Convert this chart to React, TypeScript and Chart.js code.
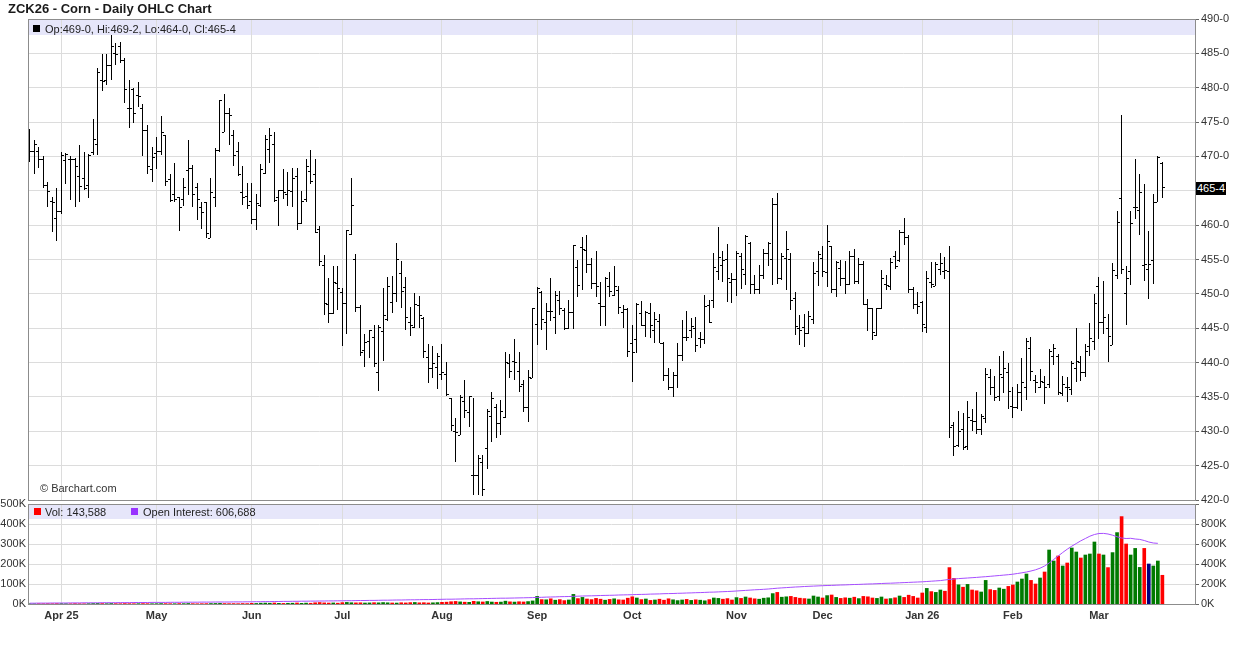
import React, { useEffect, useRef } from 'react';
import { Chart, registerables } from 'chart.js';

Chart.register(...registerables);

const FONT = "'Liberation Sans', Arial, Helvetica, sans-serif";

// x positions are trading-day indexes (0 = 21 Mar 2025 ... 250 = 20 Mar 2026)
const monthTickIndex = [7, 28, 49, 69, 91, 112, 133, 156, 175, 197, 217, 236];
const monthLabels = ['Apr 25', 'May', 'Jun', 'Jul', 'Aug', 'Sep', 'Oct', 'Nov', 'Dec', 'Jan 26', 'Feb', 'Mar'];

const priceTicks = [420, 425, 430, 435, 440, 445, 450, 455, 460, 465, 470, 475, 480, 485, 490];
const volumeTicksK = [0, 100, 200, 300, 400, 500];
const oiTicksK = [0, 200, 400, 600, 800, 1000];

const opens = [
  472.8, 470.7, 470.7, 469.6, 465.8, 463.4, 461.0, 462.0, 469.4, 469.6,
  469.6, 467.1, 466.8, 465.8, 470.5, 471.8, 481.1, 481.1, 483.3, 485.0,
  486.0, 484.0, 477.0, 479.7, 478.9, 477.0, 473.8, 468.1, 470.4, 470.7,
  473.0, 466.6, 464.4, 464.0, 463.8, 467.9, 468.3, 465.5, 462.6, 463.3,
  458.1, 464.0, 470.8, 473.5, 476.3, 473.1, 470.7, 464.7, 464.1, 463.4,
  460.8, 462.8, 467.5, 471.0, 471.8, 464.0, 465.0, 464.4, 464.9, 467.1,
  460.2, 463.7, 467.8, 467.3, 459.3, 454.1, 448.4, 447.1, 451.5, 450.2,
  448.6, 458.6, 455.0, 448.0, 441.8, 443.1, 443.6, 438.6, 444.5, 446.3,
  448.7, 450.1, 452.9, 450.9, 445.9, 445.1, 448.3, 446.4, 440.7, 439.2,
  439.3, 438.3, 438.3, 434.8, 429.9, 429.4, 434.4, 432.7, 423.5, 423.5,
  425.5, 427.5, 432.2, 433.5, 431.2, 432.0, 439.9, 440.2, 438.7, 436.8,
  433.5, 437.7, 445.5, 450.2, 445.8, 447.5, 446.5, 449.1, 447.6, 444.9,
  447.3, 453.8, 456.8, 456.3, 454.2, 451.5, 448.6, 448.2, 451.0, 449.7,
  450.5, 447.3, 447.7, 442.8, 443.4, 447.1, 445.4, 447.1, 444.7, 446.0,
  442.8, 438.1, 436.4, 438.1, 441.0, 443.7, 444.7, 445.0, 443.5, 443.4,
  448.3, 449.1, 453.2, 454.1, 455.0, 451.7, 452.1, 455.5, 452.8, 457.3,
  451.3, 450.7, 452.7, 455.9, 455.0, 463.0, 452.3, 455.2, 455.0, 449.3,
  445.0, 445.1, 444.3, 446.3, 453.2, 455.2, 453.1, 456.9, 450.6, 453.7,
  452.3, 451.3, 455.5, 451.8, 454.2, 448.5, 447.8, 444.0, 447.9, 451.3,
  451.1, 455.5, 454.8, 459.0, 458.2, 450.6, 448.4, 448.7, 445.1, 451.6,
  451.1, 453.5, 453.3, 453.3, 430.9, 428.0, 430.2, 427.8, 431.6, 431.4,
  430.2, 431.9, 437.9, 436.3, 435.1, 437.9, 438.6, 433.6, 433.4, 435.7,
  436.3, 442.0, 437.4, 436.4, 437.1, 436.8, 440.9, 440.9, 435.5, 436.4,
  436.1, 439.2, 440.0, 438.5, 442.3, 443.0, 451.0, 445.8, 445.0, 442.5,
  452.7, 463.9, 450.0, 453.3, 462.5, 462.1, 454.1, 453.6, 454.9, 463.3,
  469.0,
];

const highs = [
  474.0, 472.4, 471.4, 470.1, 466.3, 464.1, 465.4, 470.7, 470.5, 470.0,
  469.7, 471.7, 470.7, 470.4, 475.5, 482.8, 484.9, 484.9, 487.7, 486.5,
  486.6, 484.3, 481.1, 479.9, 480.9, 477.6, 474.6, 471.4, 472.9, 475.9,
  473.1, 467.4, 469.0, 464.1, 466.8, 472.4, 468.7, 466.1, 463.4, 463.4,
  466.8, 471.2, 478.2, 479.1, 477.0, 473.8, 472.1, 468.6, 466.1, 466.2,
  464.5, 468.9, 473.1, 474.2, 473.5, 465.1, 468.1, 467.8, 468.3, 468.3,
  464.9, 469.6, 471.0, 469.6, 459.9, 455.6, 452.3, 454.0, 454.0, 450.8,
  459.3, 466.8, 455.8, 448.4, 444.2, 444.8, 445.4, 445.5, 450.9, 452.4,
  452.6, 457.4, 454.8, 452.4, 448.1, 450.1, 449.7, 446.6, 442.7, 442.4,
  441.4, 442.7, 440.1, 434.9, 431.9, 435.3, 437.4, 435.2, 434.9, 426.6,
  426.5, 433.3, 435.7, 434.0, 434.5, 441.5, 441.3, 443.5, 441.5, 437.4,
  438.9, 447.9, 451.0, 450.4, 448.6, 452.3, 450.4, 450.4, 447.9, 449.1,
  457.1, 455.0, 458.3, 458.6, 455.2, 456.3, 451.7, 452.5, 453.2, 454.1,
  451.1, 448.4, 447.9, 445.5, 448.6, 448.9, 447.5, 448.6, 447.3, 447.0,
  443.0, 439.2, 438.7, 442.8, 446.2, 447.5, 446.5, 446.6, 444.4, 449.8,
  449.1, 456.0, 459.7, 456.3, 457.3, 453.0, 456.3, 455.9, 458.6, 457.6,
  452.7, 454.2, 456.6, 457.6, 464.0, 464.7, 455.9, 459.1, 456.0, 450.3,
  446.9, 447.0, 447.5, 454.6, 456.3, 456.9, 460.0, 457.0, 454.8, 454.9,
  454.8, 456.3, 456.5, 455.2, 454.8, 449.2, 448.0, 448.0, 453.5, 452.7,
  455.2, 456.3, 459.3, 461.0, 458.5, 451.0, 450.3, 449.0, 453.3, 454.7,
  454.7, 456.0, 455.3, 456.9, 431.4, 433.0, 432.7, 434.4, 433.2, 435.7,
  432.5, 439.2, 439.0, 438.0, 440.9, 441.7, 440.0, 436.4, 436.9, 440.6,
  443.6, 443.7, 438.2, 439.1, 438.1, 442.0, 442.7, 441.3, 438.1, 437.9,
  440.2, 445.0, 440.9, 442.7, 445.8, 450.0, 452.4, 451.8, 447.1, 454.5,
  462.0, 476.1, 454.1, 462.1, 469.6, 467.5, 466.0, 459.1, 464.6, 470.1,
  469.25,
];

const lows = [
  469.2, 467.5, 468.3, 465.4, 462.7, 459.0, 457.7, 461.6, 466.0, 463.6,
  462.7, 463.4, 465.1, 464.0, 470.2, 470.2, 479.5, 480.4, 481.1, 483.3,
  483.6, 477.8, 474.2, 474.8, 477.2, 470.0, 467.4, 466.3, 468.1, 470.2,
  465.7, 463.3, 463.3, 459.2, 462.8, 464.4, 462.7, 460.8, 459.5, 458.1,
  458.1, 462.7, 470.7, 473.5, 471.6, 468.6, 467.1, 463.0, 462.3, 460.1,
  459.3, 462.7, 467.5, 469.0, 463.4, 459.9, 463.8, 462.8, 462.7, 459.3,
  460.2, 463.4, 466.0, 458.8, 454.0, 446.9, 445.8, 447.0, 447.7, 442.4,
  444.2, 458.6, 447.3, 440.9, 439.3, 440.6, 439.3, 435.8, 440.3, 446.1,
  447.2, 448.8, 447.9, 444.8, 443.8, 445.1, 445.1, 440.6, 437.0, 437.8,
  436.1, 437.4, 435.1, 430.1, 425.6, 429.4, 432.0, 430.6, 420.8, 420.8,
  420.6, 424.5, 428.5, 429.0, 429.5, 431.9, 437.8, 437.4, 435.7, 432.8,
  431.3, 437.7, 442.6, 444.7, 441.9, 446.0, 444.2, 446.9, 444.7, 444.9,
  444.9, 449.5, 450.5, 453.1, 450.7, 449.5, 445.3, 445.3, 449.5, 449.7,
  447.0, 445.0, 440.8, 437.1, 441.4, 445.3, 443.7, 443.6, 442.9, 442.8,
  437.3, 436.0, 435.0, 436.3, 440.2, 443.2, 443.6, 441.5, 442.1, 442.7,
  445.8, 447.9, 452.0, 451.7, 448.8, 448.7, 449.7, 450.7, 451.3, 450.0,
  450.0, 450.0, 452.2, 454.1, 451.3, 451.5, 452.0, 450.5, 447.7, 444.0,
  442.5, 442.2, 444.1, 445.6, 451.2, 452.4, 451.0, 450.1, 449.5, 451.2,
  450.0, 451.3, 451.4, 451.4, 448.4, 444.6, 443.3, 443.9, 447.8, 450.5,
  450.5, 453.6, 454.7, 457.1, 450.1, 447.8, 447.1, 444.5, 444.3, 450.8,
  451.1, 452.8, 452.1, 429.0, 426.4, 427.7, 427.3, 427.3, 430.1, 429.6,
  429.5, 431.2, 435.3, 434.4, 434.4, 435.6, 433.2, 431.9, 433.2, 432.9,
  434.5, 437.3, 435.5, 436.3, 433.9, 436.3, 439.7, 435.3, 435.2, 434.2,
  435.3, 437.2, 437.3, 437.9, 440.9, 441.9, 443.4, 444.2, 440.1, 442.5,
  452.2, 452.9, 445.4, 451.3, 460.9, 458.5, 451.9, 449.2, 451.5, 463.3,
  464.0,
];

const closes = [
  470.7, 471.7, 469.6, 465.8, 464.9, 463.3, 462.0, 470.1, 470.3, 469.6,
  468.5, 465.6, 465.4, 470.2, 472.5, 482.2, 480.9, 483.3, 486.0, 484.9,
  484.0, 479.7, 477.0, 476.3, 478.7, 473.8, 468.6, 469.9, 470.7, 473.5,
  466.3, 463.6, 463.8, 462.6, 465.5, 468.3, 464.4, 463.7, 461.9, 458.8,
  464.7, 470.8, 478.1, 476.3, 475.9, 470.1, 467.3, 464.0, 462.8, 460.8,
  463.1, 468.1, 472.5, 473.1, 463.6, 465.0, 464.7, 465.0, 466.8, 460.2,
  463.4, 468.6, 466.3, 459.0, 454.7, 448.6, 447.1, 451.7, 450.8, 448.6,
  459.2, 462.8, 448.0, 441.5, 442.9, 444.6, 439.9, 445.1, 446.9, 451.1,
  450.1, 455.0, 450.4, 446.6, 445.4, 448.5, 446.9, 441.6, 439.2, 439.9,
  440.9, 438.6, 435.3, 430.9, 429.8, 434.9, 433.0, 435.1, 423.6, 426.0,
  421.5, 432.9, 434.7, 431.2, 432.9, 440.0, 438.7, 440.0, 436.5, 433.5,
  437.8, 447.9, 450.8, 446.2, 447.5, 447.4, 449.7, 447.9, 445.0, 447.3,
  457.0, 451.2, 456.5, 454.2, 451.5, 451.0, 448.2, 452.3, 450.3, 451.1,
  448.0, 447.7, 441.6, 441.4, 448.4, 445.4, 447.3, 445.4, 446.2, 442.8,
  438.1, 436.4, 438.1, 441.0, 443.7, 443.6, 445.3, 442.5, 443.4, 448.2,
  445.8, 453.8, 455.3, 454.9, 452.3, 452.1, 455.9, 453.6, 458.3, 451.3,
  450.7, 452.7, 455.9, 457.3, 463.0, 452.3, 455.5, 456.5, 449.1, 445.3,
  444.7, 444.3, 446.7, 453.0, 455.8, 453.2, 457.6, 450.7, 454.6, 452.3,
  451.3, 455.5, 451.8, 454.2, 448.5, 447.8, 444.4, 447.9, 452.3, 451.2,
  454.5, 454.0, 459.0, 458.2, 450.6, 448.4, 448.2, 445.5, 452.2, 451.4,
  454.2, 454.4, 453.4, 430.6, 427.8, 429.9, 427.6, 432.0, 431.4, 430.2,
  432.1, 438.3, 436.3, 434.9, 438.3, 439.2, 435.8, 433.4, 435.7, 437.1,
  443.0, 438.7, 437.1, 437.3, 436.4, 441.6, 442.0, 435.7, 436.8, 436.3,
  439.8, 440.1, 438.5, 441.6, 443.5, 448.6, 445.8, 446.5, 443.8, 453.4,
  460.4, 453.6, 452.3, 460.3, 462.5, 464.7, 454.25, 454.25, 463.3, 469.8,
  465.5,
];

// daily volume, thousands of contracts
const volumeK = [
  1.1, 0.9, 1.4, 1.2, 1.6, 1.3, 2.0, 1.8, 1.5, 1.2,
  1.9, 1.4, 1.1, 1.7, 2.3, 2.8, 2.1, 1.6, 2.4, 1.9,
  1.5, 2.2, 1.8, 1.4, 1.6, 2.0, 1.7, 1.3, 1.5, 2.1,
  1.9, 1.6, 1.4, 2.2, 1.8, 2.5, 1.7, 1.3, 1.6, 1.9,
  2.4, 2.7, 3.1, 2.2, 1.8, 2.0, 1.6, 2.3, 1.9,
  3.2, 2.8, 4.1, 4.6, 3.9, 5.2, 3.4, 2.9, 3.6, 4.0,
  5.1, 3.3, 4.4, 3.8, 6.2, 7.4, 5.6, 4.8, 5.3, 4.1,
  6.8, 7.9, 6.4, 5.7, 6.1, 4.9, 5.5, 6.6, 5.8, 7.2,
  6.0, 5.1, 4.7, 6.3, 5.4, 6.9, 7.7, 5.9, 6.5, 5.2,
  6.0, 7.1,
  8.5, 9.2, 11.4, 12.8, 10.6, 9.1, 8.4, 13.5, 11.2, 10.1,
  12.6, 9.8, 8.7, 9.5, 14.2, 10.8, 9.6, 11.3, 10.2, 12.1,
  15.4,
  38, 22, 21, 26, 19, 22, 17, 20, 48, 27,
  33, 25, 22, 28, 24, 19, 23, 26, 21, 20,
  29,
  36, 30, 22, 25, 18, 20, 24, 19, 26, 21,
  17, 20, 23, 18, 21, 19, 16, 22, 30, 28,
  24, 27, 20,
  32, 28, 35, 30, 26, 24, 29, 31, 52, 58,
  34, 36, 38, 33, 29, 27, 25, 40, 35,
  30, 42, 45, 33, 28, 31, 29, 34, 27, 38,
  36, 30, 28, 35, 25, 27, 31, 40, 33, 44,
  38, 30,
  55, 78, 62, 58, 70, 64, 182, 128, 96, 84,
  98, 70, 66, 60, 118, 72, 68, 80, 74, 88,
  95, 110, 125, 150, 118, 100, 130, 160, 270, 215,
  240, 190, 205, 280, 260, 230, 245, 250, 310,
  250, 245, 182, 257, 357, 437, 300, 245, 278, 183,
  278, 200, 190, 215, 143.588,
];

// open interest, thousands of contracts (reported through the previous session)
const openInterestK = [
  8, 8, 9, 9, 9, 10, 10, 10, 10, 11,
  11, 11, 12, 12, 12, 12, 13, 13, 13, 13,
  14, 14, 14, 15, 15, 15, 15, 16, 16, 16,
  16, 17, 17, 17, 18, 18, 18, 18, 19, 19,
  19, 20, 20, 20, 20, 21, 21, 21, 22,
  22, 23, 23, 24, 24, 25, 25, 26, 26, 27,
  27, 28, 28, 29, 29, 30, 30, 31, 31, 32,
  32, 33, 33, 34, 35, 35, 36, 36, 37, 38,
  38, 39, 40, 40, 41, 42, 42, 43, 44, 44,
  45, 46,
  47, 48, 48, 49, 50, 51, 52, 52, 53, 54,
  55, 56, 57, 58, 58, 59, 60, 61, 62, 63,
  64,
  66, 67, 69, 70, 71, 73, 74, 75, 77, 78,
  80, 81, 82, 83, 85, 86, 87, 88, 90, 91,
  92,
  93, 95, 96, 97, 99, 100, 101, 103, 104, 105,
  107, 108, 110, 111, 113, 114, 116, 118, 119, 121,
  123, 125, 127,
  130, 133, 136, 139, 142, 144, 147, 150, 154, 158,
  161, 164, 167, 170, 172, 175, 177, 179, 181,
  183, 185, 186, 188, 190, 191, 193, 195, 196, 198,
  200, 201, 203, 205, 207, 208, 210, 212, 214, 216,
  218, 220,
  222, 225, 228, 231, 234, 240, 246, 250, 254, 257,
  260, 263, 266, 270, 273, 277, 281, 285, 289, 293,
  298, 305, 312, 320, 330, 342, 358, 380, 410, 445,
  480, 515, 548, 578, 605, 632, 655, 678, 695,
  705, 706, 700, 688, 672, 660, 655, 657, 650, 646,
  635, 620, 610, 606.688,
];

const X_MIN = -0.375;
const X_MAX = 257.2;
const GRID = '#dcdcdc';
const FRAME = '#8c8c8c';
const BAND = '#e6e6fa';
const UP = '#007a00';
const DOWN = '#ff0000';
const FLAT = '#000080';
const OI_COLOR = '#a64dff';

function eighths(v: number): string {
  const whole = Math.floor(v + 1e-9);
  const e = Math.round((v - whole) * 8);
  return `${whole}-${e}`;
}

const bandPlugin = {
  id: 'band',
  beforeDraw(chart: any, _args: any, opts: any) {
    const { ctx, chartArea: a } = chart;
    ctx.save();
    ctx.fillStyle = BAND;
    ctx.fillRect(a.left, a.top, a.right - a.left, opts.height || 16);
    ctx.restore();
  },
};

const framePlugin = {
  id: 'frame',
  afterDraw(chart: any) {
    const { ctx, chartArea: a } = chart;
    ctx.save();
    ctx.strokeStyle = FRAME;
    ctx.lineWidth = 1;
    ctx.strokeRect(a.left + 0.5, a.top + 0.5, a.right - a.left, a.bottom - a.top);
    ctx.restore();
  },
};

// crisp OHLC drawing using the bar elements laid out by Chart.js (high-low range) and the y scale
const ohlcPlugin = {
  id: 'ohlc',
  beforeDatasetDraw(chart: any, args: any) {
    if (args.index !== 0) return;
    const { ctx } = chart;
    const y = chart.scales.y;
    const a = chart.chartArea;
    ctx.save();
    ctx.beginPath();
    ctx.rect(a.left, a.top, a.right - a.left, a.bottom - a.top);
    ctx.clip();
    ctx.fillStyle = '#000';
    args.meta.data.forEach((el: any, i: number) => {
      const xc = Math.round(el.x - 0.5);
      const top = Math.round(Math.min(el.y, el.base));
      const bot = Math.round(Math.max(el.y, el.base));
      ctx.fillRect(xc, top, 1, Math.max(1, bot - top));
      const yo = Math.round(y.getPixelForValue(opens[i]) - 0.5);
      const yc = Math.round(y.getPixelForValue(closes[i]) - 0.5);
      ctx.fillRect(xc - 2, yo, 2, 1);
      ctx.fillRect(xc + 1, yc, 2, 1);
    });
    ctx.restore();
    return false;
  },
};

function xScale(height: number, showLabels: boolean) {
  return {
    type: 'linear',
    min: X_MIN,
    max: X_MAX,
    offset: false,
    afterBuildTicks: (s: any) => {
      s.ticks = monthTickIndex.map((v) => ({ value: v }));
    },
    afterFit: (s: any) => {
      s.height = height;
    },
    grid: { color: GRID, drawTicks: false, offset: false },
    border: { display: false },
    ticks: {
      display: showLabels,
      autoSkip: false,
      maxRotation: 0,
      minRotation: 0,
      padding: 5,
      color: '#333',
      font: { size: 11, weight: 'bold' },
      callback: (v: any) => {
        const k = monthTickIndex.indexOf(Number(v));
        return k >= 0 ? monthLabels[k] : '';
      },
    },
  };
}

export default function App() {
  const priceRef = useRef<HTMLCanvasElement>(null);
  const volRef = useRef<HTMLCanvasElement>(null);
  const last = closes.length - 1;

  useEffect(() => {
    Chart.defaults.font.family = FONT;
    Chart.defaults.font.size = 11;
    const idx = closes.map((_, i) => i);

    const priceChart = new Chart(priceRef.current as HTMLCanvasElement, {
      type: 'bar',
      data: {
        datasets: [
          {
            type: 'bar',
            label: 'ZCK26',
            data: idx.map((i) => ({ x: i, y: [lows[i], highs[i]] })) as any,
            backgroundColor: '#000',
            borderWidth: 0,
            barThickness: 1,
          },
        ],
      },
      options: {
        animation: false,
        responsive: false,
        devicePixelRatio: 1,
        events: [],
        layout: { padding: { left: 28, top: 19, right: 0, bottom: 10 } },
        plugins: {
          legend: { display: false },
          tooltip: { enabled: false },
          band: { height: 16 },
        } as any,
        scales: {
          x: xScale(0, false) as any,
          y: {
            position: 'right',
            min: 420,
            max: 490,
            afterBuildTicks: (s: any) => {
              s.ticks = priceTicks.map((v) => ({ value: v }));
            },
            afterFit: (s: any) => {
              s.width = 41;
            },
            grid: { color: GRID, tickColor: '#666', tickLength: 4, drawTicks: true },
            border: { color: FRAME },
            ticks: {
              padding: 2,
              color: '#333',
              font: { size: 11 },
              // the label next to the last-price tag is hidden by the tag itself
              callback: (v: any) => (Math.abs(Number(v) - closes[last]) < 2.5 ? '' : `${v}-0`),
            },
          } as any,
        },
      },
      plugins: [bandPlugin, ohlcPlugin, framePlugin],
    });

    const volColors = volumeK.map((_, i) => {
      if (i === 0) return UP;
      if (closes[i] > closes[i - 1]) return UP;
      if (closes[i] < closes[i - 1]) return DOWN;
      return FLAT;
    });

    const volChart = new Chart(volRef.current as HTMLCanvasElement, {
      type: 'bar',
      data: {
        datasets: [
          {
            type: 'line',
            label: 'Open Interest',
            yAxisID: 'yo',
            data: openInterestK.map((v, i) => ({ x: i, y: v })) as any,
            borderColor: OI_COLOR,
            borderWidth: 1,
            pointRadius: 0,
            tension: 0,
            order: 1,
          } as any,
          {
            type: 'bar',
            label: 'Vol',
            yAxisID: 'yv',
            data: idx.map((i) => ({ x: i, y: volumeK[i] })) as any,
            backgroundColor: volColors,
            borderWidth: 0,
            barThickness: 3,
            order: 2,
          },
        ],
      },
      options: {
        animation: false,
        responsive: false,
        devicePixelRatio: 1,
        events: [],
        layout: { padding: { left: 0, top: 14, right: 0, bottom: 0 } },
        plugins: {
          legend: { display: false },
          tooltip: { enabled: false },
          band: { height: 15 },
        } as any,
        scales: {
          x: xScale(41, true) as any,
          yv: {
            position: 'left',
            min: 0,
            max: 500,
            afterBuildTicks: (s: any) => {
              s.ticks = volumeTicksK.map((v) => ({ value: v }));
            },
            afterFit: (s: any) => {
              s.width = 28;
            },
            grid: { display: false, drawTicks: false },
            border: { display: false },
            ticks: { padding: 2, color: '#333', font: { size: 11 }, callback: (v: any) => `${v}K` },
          } as any,
          yo: {
            position: 'right',
            min: 0,
            max: 1000,
            afterBuildTicks: (s: any) => {
              s.ticks = oiTicksK.map((v) => ({ value: v }));
            },
            afterFit: (s: any) => {
              s.width = 41;
            },
            grid: { color: GRID, tickColor: '#666', tickLength: 4, drawTicks: true },
            border: { color: FRAME },
            ticks: {
              padding: 2,
              color: '#333',
              font: { size: 11 },
              callback: (v: any) => (Number(v) > 800 ? '' : `${v}K`),
            },
          } as any,
        },
      },
      plugins: [bandPlugin, framePlugin],
    });

    return () => {
      priceChart.destroy();
      volChart.destroy();
    };
  }, []);

  const legendText = `Op:${eighths(opens[last])}, Hi:${eighths(highs[last])}, Lo:${eighths(lows[last])}, Cl:${eighths(closes[last])}`;
  const volText = `Vol: ${Math.round(volumeK[last] * 1000).toLocaleString('en-US')}`;
  const oiText = `Open Interest: ${Math.round(openInterestK[openInterestK.length - 1] * 1000).toLocaleString('en-US')}`;

  const txt: React.CSSProperties = {
    position: 'absolute',
    fontFamily: FONT,
    fontSize: 11,
    lineHeight: '14px',
    color: '#222',
    whiteSpace: 'nowrap',
  };

  return (
    <div
      style={{
        position: 'absolute',
        left: 0,
        top: 0,
        width: 1236,
        height: 645,
        background: '#fff',
        overflow: 'hidden',
        fontFamily: FONT,
      }}
    >
      <canvas ref={priceRef} width={1236} height={510} style={{ position: 'absolute', left: 0, top: 0 }} />
      <canvas ref={volRef} width={1236} height={155} style={{ position: 'absolute', left: 0, top: 490 }} />
      <div style={{ ...txt, left: 8, top: 1, fontSize: 13, lineHeight: '15px', fontWeight: 'bold', color: '#1a1a1a' }}>
        ZCK26 - Corn - Daily OHLC Chart
      </div>
      <div style={{ position: 'absolute', left: 33, top: 25, width: 7, height: 7, background: '#000' }} />
      <div style={{ ...txt, left: 45, top: 22 }}>{legendText}</div>
      <div style={{ ...txt, left: 40, top: 481, color: '#333' }}>© Barchart.com</div>
      <div
        style={{
          ...txt,
          left: 1196,
          top: 182,
          width: 30,
          height: 13,
          lineHeight: '13px',
          background: '#000',
          color: '#fff',
          textAlign: 'center',
        }}
      >
        {eighths(closes[last])}
      </div>
      <div style={{ position: 'absolute', left: 34, top: 508, width: 7, height: 7, background: DOWN }} />
      <div style={{ ...txt, left: 45, top: 505 }}>{volText}</div>
      <div style={{ position: 'absolute', left: 131, top: 508, width: 7, height: 7, background: '#9933ff' }} />
      <div style={{ ...txt, left: 143, top: 505 }}>{oiText}</div>
    </div>
  );
}
